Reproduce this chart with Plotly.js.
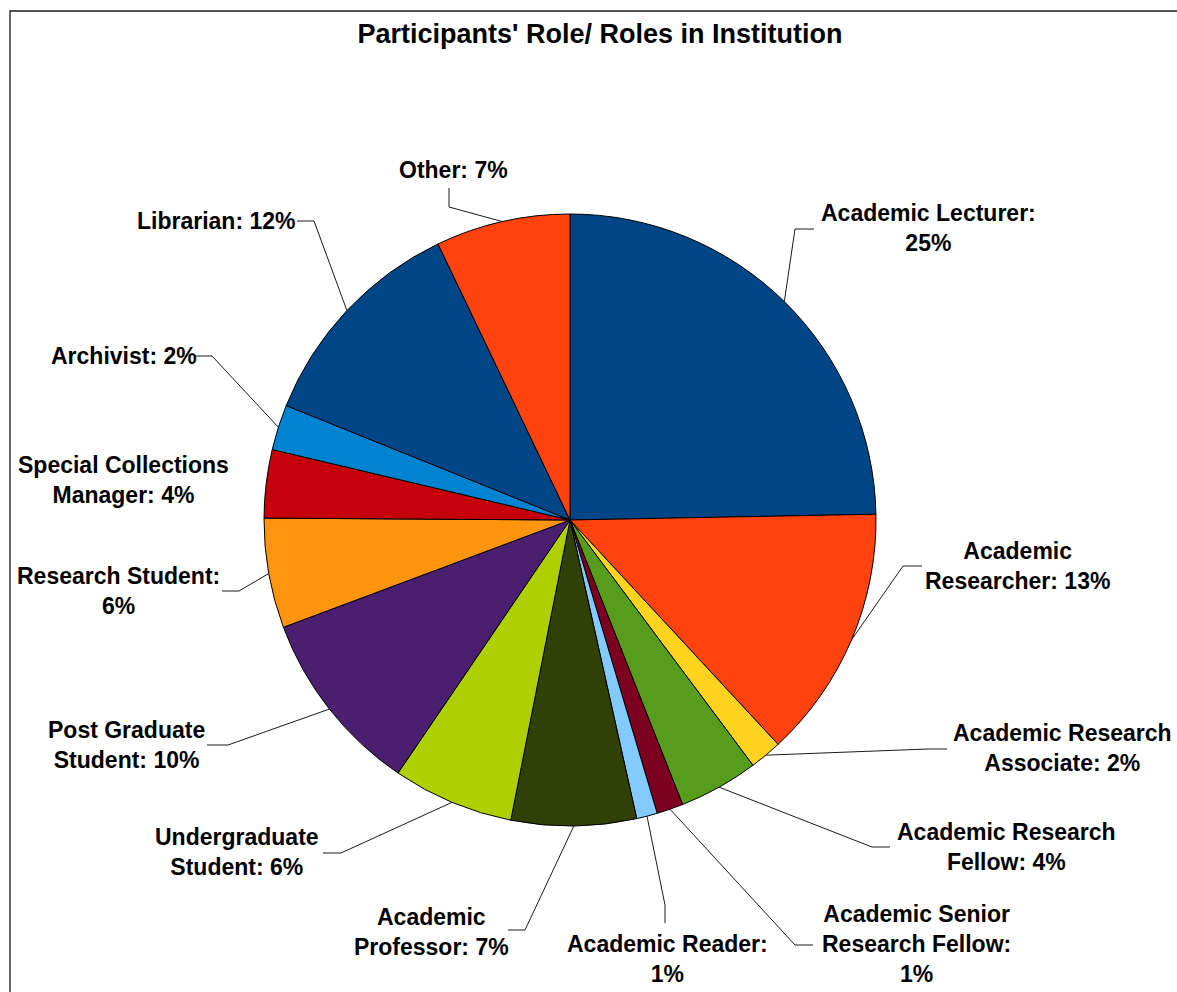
<!DOCTYPE html>
<html>
<head>
<meta charset="utf-8">
<script src="https://cdn.plot.ly/plotly-3.0.1.min.js"></script>
<style>html,body{margin:0;padding:0;background:#fff;}#chart{width:1177px;height:992px;}</style>
</head>
<body>
<div id="chart"></div>
<script>
// ---- data ----
const chartTitle = "Participants' Role/ Roles in Institution";
const categories = [
  "Academic Lecturer", "Academic Researcher", "Academic Research Associate",
  "Academic Research Fellow", "Academic Senior Research Fellow", "Academic Reader",
  "Academic Professor", "Undergraduate Student", "Post Graduate Student",
  "Research Student", "Special Collections Manager", "Archivist", "Librarian", "Other"
];
const values = [24.7, 13.4, 1.7, 4.2, 1.4, 1.1, 6.6, 6.4, 9.8, 5.8, 3.6, 2.4, 11.8, 7.1];

// ---- styles / layout ----
const colors = ["#004586", "#ff420e", "#ffd320", "#579d1c", "#7e0021", "#83caff",
  "#314004", "#aecf00", "#4b1f6f", "#ff950e", "#c5000b", "#0084d1", "#004586", "#ff420e"];
const W = 1177, H = 992;
const pieCenter = [570, 520], pieRadius = 306;
// label block centre (px) and wrap width (characters)
const labelPos = [[928,228],[1018,566],[1062,748],[1006,847],[916,944],[667,959],
  [431,932],[237,852],[126,745],[118,591],[123,480],[124,356],[216,221],[453,170]];
const labelWrap = [18,15,17,17,16,16,13,13,13,17,19,20,20,20];
// leader elbow and end points (px); null = no leader
const leaderElbow = [[795,229],[903,566],[928,749],[872,847],[795,945],[665,905],
  [525,930],[341,853],[228,745],[239,591],null,[212,356],[314,221],[449,207]];
const leaderEnd = [[814,229],[922,566],[947,749],[890,847],[813,945],[665,923],
  [508,930],[323,853],[207,745],[222,591],null,[195,356],[297,221],[449,188]];

function px(x){ return x / W; }
function py(y){ return 1 - y / H; }
function wrap(text, width){
  const words = text.split(' ');
  const lines = [];
  let cur = '';
  words.forEach(w => {
    if (!cur) cur = w;
    else if ((cur + ' ' + w).length <= width) cur += ' ' + w;
    else { lines.push(cur); cur = w; }
  });
  if (cur) lines.push(cur);
  return lines.join('<br>');
}

const total = values.reduce((a,b)=>a+b,0);
const annotations = [];
const shapes = [];
let cum = 0;
categories.forEach((c, i) => {
  const pct = Math.round(values[i] / total * 100);
  const mid = 2 * Math.PI * (cum + values[i] / 2) / total;
  cum += values[i];
  const ex = pieCenter[0] + pieRadius * Math.sin(mid);
  const ey = pieCenter[1] - pieRadius * Math.cos(mid);
  annotations.push({
    text: wrap(c + ': ' + pct + '%', labelWrap[i]),
    x: px(labelPos[i][0]), y: py(labelPos[i][1]), xref: 'paper', yref: 'paper',
    xanchor: 'center', yanchor: 'middle', align: 'center', showarrow: false,
    font: {family: 'Liberation Sans, Arial, sans-serif', size: 23, color: '#000', weight: 700}
  });
  if (leaderElbow[i]) {
    const e = leaderElbow[i], t = leaderEnd[i];
    shapes.push({
      type: 'path', xref: 'paper', yref: 'paper',
      path: 'M' + px(ex) + ',' + py(ey) + ' L' + px(e[0]) + ',' + py(e[1]) + ' L' + px(t[0]) + ',' + py(t[1]),
      line: {color: '#1a1a1a', width: 1}
    });
  }
});
// outer chart frame
shapes.push({type:'rect', xref:'paper', yref:'paper', x0: px(10), x1: px(1250), y0: py(11), y1: py(1100),
  line:{color:'#1a1a1a', width:1.3}, fillcolor:'rgba(0,0,0,0)', layer:'above'});

const trace = {
  type: 'pie', labels: categories, values: values, sort: false, direction: 'clockwise', rotation: 0,
  textinfo: 'none', textposition: 'none', hoverinfo: 'label+percent',
  marker: {colors: colors, line: {color: '#000', width: 1}},
  domain: {x: [px(pieCenter[0]-pieRadius), px(pieCenter[0]+pieRadius)],
           y: [py(pieCenter[1]+pieRadius), py(pieCenter[1]-pieRadius)]},
  automargin: false
};

const layout = {
  width: W, height: H, margin: {l:0, r:0, t:0, b:0},
  paper_bgcolor: '#fff', plot_bgcolor: '#fff', showlegend: false,
  title: {text: chartTitle, x: 600/W, xref: 'paper', xanchor: 'center', y: py(34), yref: 'paper', yanchor: 'middle',
    font: {family: 'Liberation Sans, Arial, sans-serif', size: 27, color: '#000', weight: 700}},
  annotations: annotations, shapes: shapes
};
Plotly.newPlot('chart', [trace], layout, {displayModeBar: false, staticPlot: true});
</script>
</body>
</html>
